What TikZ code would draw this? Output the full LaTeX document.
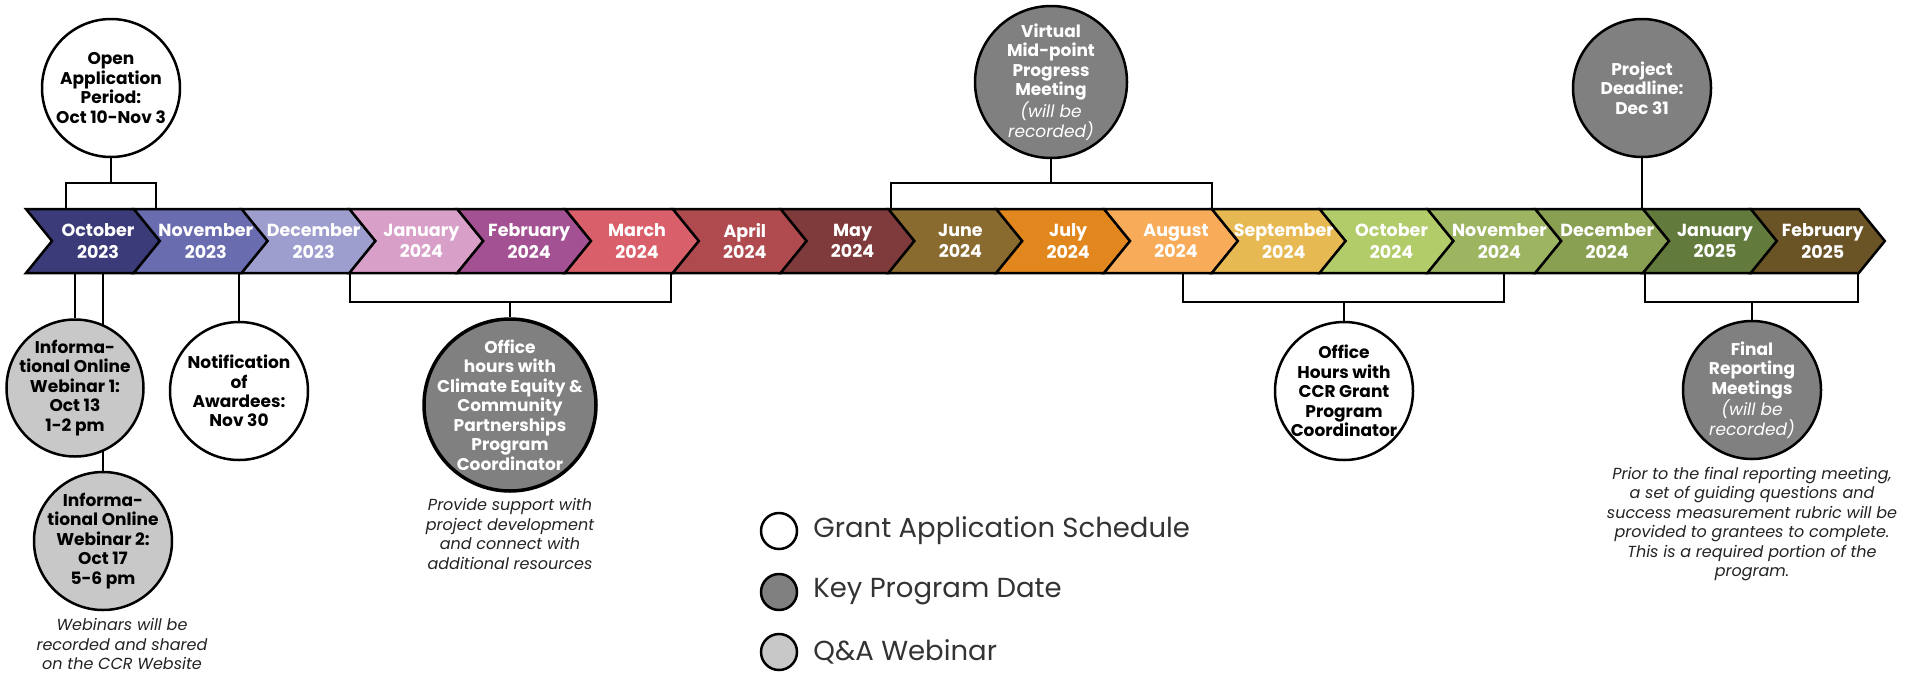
\documentclass[tikz,border=0pt]{standalone}
\usepackage{fontspec}
\setmainfont{Poppins}
\usetikzlibrary{positioning}
\pgfdeclarelayer{background}
\pgfsetlayers{background,main}
\definecolor{oct23}{HTML}{3A3B78}
\definecolor{nov23}{HTML}{6A6CB0}
\definecolor{dec23}{HTML}{9D9ECD}
\definecolor{jan24}{HTML}{D89FC8}
\definecolor{feb24}{HTML}{A35192}
\definecolor{mar24}{HTML}{D95F6B}
\definecolor{apr24}{HTML}{AF4A4E}
\definecolor{may24}{HTML}{7F3A3B}
\definecolor{jun24}{HTML}{8A6B2F}
\definecolor{jul24}{HTML}{E2861E}
\definecolor{aug24}{HTML}{F8AC5A}
\definecolor{sep24}{HTML}{E7B952}
\definecolor{oct24}{HTML}{B2CC6A}
\definecolor{nov24}{HTML}{9DB461}
\definecolor{dec24}{HTML}{899F52}
\definecolor{jan25}{HTML}{627A3B}
\definecolor{feb25}{HTML}{6A5426}
\definecolor{keygray}{HTML}{808080}
\definecolor{webgray}{HTML}{C8C8C8}
\definecolor{notegray}{HTML}{222222}
\definecolor{leggray}{HTML}{333333}
\tikzset{
  chevron/.style={draw=black, line width=2.5pt, line join=miter},
  monthlabel/.style={text=white, font=\bfseries\fontsize{17.5}{21.5}\selectfont,
    align=center, inner sep=0pt},
  conn/.style={draw=black, line width=2.5pt},
  eventdot/.style={circle, draw=black, line width=2.5pt, inner sep=0pt},
  appdot/.style={eventdot, fill=white},
  keydot/.style={eventdot, fill=keygray},
  webdot/.style={eventdot, fill=webgray},
  circtext/.style={font=\bfseries\fontsize{17}{19.5}\selectfont, align=center,
    inner sep=0pt},
  keytext/.style={circtext, text=white},
  notetext/.style={font=\itshape\fontsize{16}{19.5}\selectfont, align=center,
    text=notegray, inner sep=0pt},
  legtext/.style={font=\fontsize{27.5}{32}\selectfont, text=leggray,
    inner sep=0pt, anchor=west},
}
\newcommand{\recnote}[1]{{\mdseries\itshape #1}}

\begin{document}
\begin{tikzpicture}[x=1pt,y=-1pt]
    \useasboundingbox (0,0) rectangle (1917,673);

    % timeline band
    \foreach \mon/\yr/\col [count=\i from 0] in {October/2023/oct23,
        November/2023/nov23, December/2023/dec23, January/2024/jan24,
        February/2024/feb24, March/2024/mar24, April/2024/apr24,
        May/2024/may24, June/2024/jun24, July/2024/jul24,
        August/2024/aug24, September/2024/sep24, October/2024/oct24,
        November/2024/nov24, December/2024/dec24, January/2025/jan25,
        February/2025/feb25} {
      \pgfmathsetmacro{\xl}{26+107.8*\i}
      \draw[chevron, fill=\col] (\xl,209) -- ++(108,0) -- ++(26,32)
          -- ++(-26,32) -- ++(-108,0) -- ++(26,-32) -- cycle;
      \node[monthlabel] (m\i) at (\xl+72,241) {\mon\\\yr};
    }

    % events above
    \node[appdot, minimum size=138pt,
      label={[circtext]center:{Open\\Application\\Period:\\Oct 10-Nov 3}}]
      (open) at (111,88) {};
    \node[keydot, minimum size=152pt,
      label={[keytext]center:{Virtual\\Mid-point\\Progress\\Meeting\\
        \recnote{(will be}\\\recnote{recorded)}}}]
      (midpt) at (1051,82) {};
    \node[keydot, minimum size=138pt,
      label={[keytext]center:{Project\\Deadline:\\Dec 31}}]
      (dead) at (1642,88) {};

    % events below
    \node[webdot, minimum size=137pt,
      label={[circtext]center:{Informa-\\tional Online\\Webinar 1:\\Oct 13\\1-2 pm}}]
      (web1) at (75,388) {};
    \node[webdot, minimum size=138pt,
      label={[circtext]center:{Informa-\\tional Online\\Webinar 2:\\Oct 17\\5-6 pm}}]
      (web2) at (103,541) {};
    \node[appdot, minimum size=138pt,
      label={[circtext]center:{Notification\\of\\Awardees:\\Nov 30}}]
      (notif) at (239,391) {};
    \node[keydot, minimum size=172pt, line width=3.5pt,
      label={[keytext]center:{Office\\hours with\\Climate Equity \&\\Community\\
        Partnerships\\Program\\Coordinator}}]
      (hoursA) at (510,405) {};
    \node[appdot, minimum size=138pt,
      label={[circtext]center:{Office\\Hours with\\CCR Grant\\Program\\Coordinator}}]
      (hoursB) at (1344,391) {};
    \node[keydot, minimum size=138pt,
      label={[keytext]center:{Final\\Reporting\\Meetings\\
        \recnote{(will be}\\\recnote{recorded)}}}]
      (final) at (1752,390) {};

    % notes
    \node[notetext] (webnote) at (122,644)
      {Webinars will be\\recorded and shared\\on the CCR Website};
    \node[notetext] (hoursnote) at (510,534)
      {Provide support with\\project development\\and connect with\\additional resources};
    \node[notetext] (finalnote) at (1752,524)
      {Prior to the final reporting meeting,\\a set of guiding questions and\\
       success measurement rubric will be\\provided to grantees to complete.\\
       This is a required portion of the\\program.};

    % legend
    \node[appdot, minimum size=36pt] (legA) at (779,531) {};
    \node[keydot, minimum size=36pt] (legB) at (779,592) {};
    \node[webdot, minimum size=36pt] (legC) at (779,652) {};
    \node[legtext, right=15pt of legA] (legAtext) {Grant Application Schedule};
    \node[legtext, right=15pt of legB] (legBtext) {Key Program Date};
    \node[legtext, right=15pt of legC] (legCtext) {Q\&A Webinar};

    % connector ends on the band
    \coordinate (openL) at (66,209);
    \coordinate (openR) at (156,209);
    \coordinate (openbar) at (111,183);
    \coordinate (midL) at (891,209);
    \coordinate (midR) at (1212,209);
    \coordinate (midbar) at (1051,183);
    \coordinate (deadT) at (1642,209);
    \coordinate (webA) at (75,273);
    \coordinate (webB) at (103,273);
    \coordinate (notifB) at (239,273);
    \coordinate (hoursAL) at (350,273);
    \coordinate (hoursAR) at (671,273);
    \coordinate (hoursAbar) at (510,302);
    \coordinate (hoursBL) at (1183,273);
    \coordinate (hoursBR) at (1504,273);
    \coordinate (hoursBbar) at (1344,302);
    \coordinate (finalL) at (1645,273);
    \coordinate (finalR) at (1858,273);
    \coordinate (finalbar) at (1752,302);

    \begin{pgfonlayer}{background}
      \draw[conn] (openL) |- (openbar) -| (openR);
      \draw[conn] (openbar) -- (open);
      \draw[conn] (midL) |- (midbar) -| (midR);
      \draw[conn] (midbar) -- (midpt);
      \draw[conn] (deadT) -- (dead);
      \draw[conn] (webA) -- (web1);
      \draw[conn] (webB) -- (web2);
      \draw[conn] (notifB) -- (notif);
      \draw[conn] (hoursAL) |- (hoursAbar) -| (hoursAR);
      \draw[conn] (hoursAbar) -- (hoursA);
      \draw[conn] (hoursBL) |- (hoursBbar) -| (hoursBR);
      \draw[conn] (hoursBbar) -- (hoursB);
      \draw[conn] (finalL) |- (finalbar) -| (finalR);
      \draw[conn] (finalbar) -- (final);
    \end{pgfonlayer}
\end{tikzpicture}
\end{document}
